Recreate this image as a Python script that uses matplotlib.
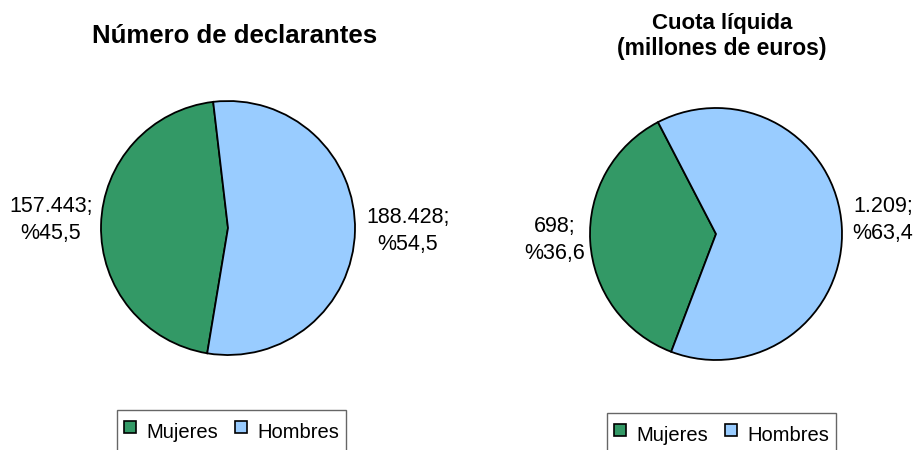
import matplotlib.pyplot as plt
from matplotlib.lines import Line2D

plt.rcParams['font.family'] = ['Liberation Sans', 'DejaVu Sans']

# data
categorias = ['Mujeres', 'Hombres']
declarantes = [157443, 188428]
cuota = [698, 1209]
etiquetas_decl = ['157.443;\n%45,5', '188.428;\n%54,5']
etiquetas_cuota = ['698;\n%36,6', '1.209;\n%63,4']
colores = ['#339966', '#99ccff']

W, H = 917, 450
fig = plt.figure(figsize=(W / 100, H / 100), dpi=100)


def pie_axes(cx, cy, r):
    # pixel center/radius (from top-left) -> figure fraction
    return fig.add_axes([(cx - r) / W, (H - cy - r) / H, 2 * r / W, 2 * r / H])


def etiqueta(ax, cx, cy, r, px, py, s):
    ax.text((px - cx) / r, (cy - py) / r, s, ha='center', va='center',
            fontsize=15.5, linespacing=1.4)


ax1 = pie_axes(228, 228, 127)
ax1.pie(declarantes, colors=colores, startangle=96.7, counterclock=True,
        wedgeprops=dict(edgecolor='black', linewidth=1.3))
ax1.set_xlim(-1, 1)
ax1.set_ylim(-1, 1)
etiqueta(ax1, 228, 228, 127, 51, 220, etiquetas_decl[0])
etiqueta(ax1, 228, 228, 127, 408, 231, etiquetas_decl[1])

ax2 = pie_axes(716, 234, 126)
ax2.pie(cuota, colors=colores, startangle=117.4, counterclock=True,
        wedgeprops=dict(edgecolor='black', linewidth=1.3))
ax2.set_xlim(-1, 1)
ax2.set_ylim(-1, 1)
etiqueta(ax2, 716, 234, 126, 555, 240, etiquetas_cuota[0])
etiqueta(ax2, 716, 234, 126, 883, 220, etiquetas_cuota[1])

# titles
fig.text(235 / W, 1 - 43 / H, 'Número de declarantes', ha='center', va='baseline',
         fontsize=18.5, fontweight='bold')
fig.text(722 / W, 1 - 29 / H, 'Cuota líquida', ha='center', va='baseline',
         fontsize=16, fontweight='bold')
fig.text(722 / W, 1 - 55 / H, '(millones de euros)', ha='center', va='baseline',
         fontsize=16.5, fontweight='bold')

# legends
handles = [Line2D([], [], linestyle='none', marker='s', markersize=8,
                  markerfacecolor=c, markeredgecolor='black', markeredgewidth=1.2)
           for c in colores]
for x0, y0 in [(117, 410), (607, 413)]:
    leg = fig.legend(handles, categorias, loc='upper left',
                     bbox_to_anchor=(x0 / W, 1 - y0 / H), ncol=2, fontsize=14.5,
                     frameon=True, fancybox=False, handlelength=0.6, handleheight=1.8,
                     handletextpad=0.5, columnspacing=0.85, borderpad=0.35,
                     borderaxespad=0)
    leg.get_frame().set_edgecolor('#404040')
    leg.get_frame().set_linewidth(1.0)

fig.savefig('out.png', dpi=100)
